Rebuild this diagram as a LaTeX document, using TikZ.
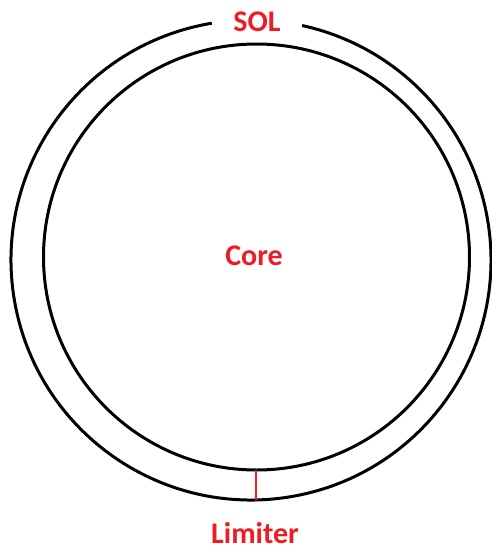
\documentclass[tikz,border=0pt]{standalone}
\usepackage{fontspec}
\setmainfont{Carlito}
\definecolor{paintred}{RGB}{237,28,36}
\begin{document}
\begin{tikzpicture}[x=1pt,y=-1pt,
  ring/.style={line width=3pt,draw=black},
  lbl/.style={text=paintred,font=\fontsize{30}{34}\selectfont\bfseries,inner sep=0pt}]
\useasboundingbox (0,0) rectangle (491,550);
\coordinate (oc) at (251,260);
\coordinate (ic) at (256.5,257);
% outer circle (SOL boundary) with gap for label
\draw[ring] ([shift={(-99.4:240)}]oc) arc[start angle=-99.4, end angle=-437.7, radius=240];
% inner circle (core)
\draw[ring] (ic) circle[radius=213];
% limiter
\coordinate (limtop) at (256,470);
\coordinate (limbot) at (256,500);
\draw[paintred,line width=2pt] (limtop) -- (limbot);
\node[lbl] (sol) at (257,22) {SOL};
\node[lbl] (core) at (254,256) {Core};
\node[lbl,anchor=base,text depth=0pt] (lim) at (255,543) {Limiter};
\end{tikzpicture}
\end{document}
